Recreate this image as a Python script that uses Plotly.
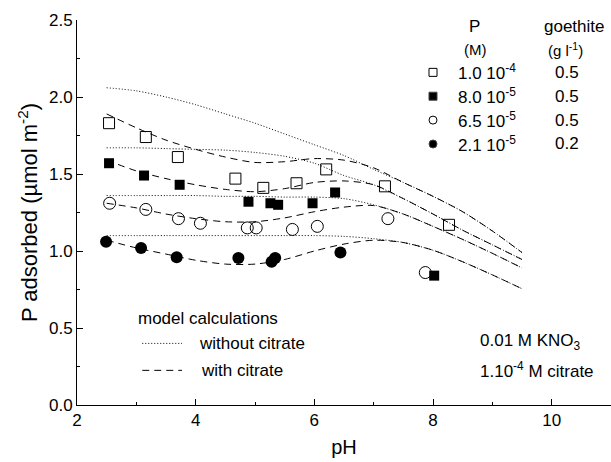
import plotly.graph_objects as go

# ---- model curves (pH grid) ----
ph_model = [2.5, 3.0, 3.5, 4.0, 4.5, 5.0, 5.5, 6.0, 6.5, 7.0, 7.5, 8.0, 8.5, 9.0, 9.5]

a_without = [2.06, 2.04, 2.00, 1.95, 1.89, 1.83, 1.76, 1.69, 1.62, 1.53, 1.445, 1.355, 1.255, 1.13, 0.99]
a_with    = [1.89, 1.80, 1.72, 1.66, 1.61, 1.575, 1.58, 1.60, 1.59, 1.54, 1.445, 1.355, 1.255, 1.13, 0.99]
b_without = [1.67, 1.67, 1.665, 1.66, 1.655, 1.64, 1.615, 1.57, 1.49, 1.43, 1.34, 1.24, 1.135, 1.04, 0.945]
b_with    = [1.59, 1.52, 1.47, 1.43, 1.40, 1.385, 1.405, 1.445, 1.455, 1.43, 1.34, 1.24, 1.135, 1.04, 0.945]
c_without = [1.36, 1.36, 1.36, 1.36, 1.355, 1.355, 1.35, 1.35, 1.34, 1.30, 1.24, 1.16, 1.075, 0.985, 0.89]
c_with    = [1.31, 1.28, 1.24, 1.21, 1.19, 1.19, 1.215, 1.255, 1.285, 1.295, 1.24, 1.16, 1.075, 0.985, 0.89]
d_without = [1.10, 1.10, 1.10, 1.10, 1.10, 1.10, 1.10, 1.10, 1.095, 1.08, 1.055, 1.005, 0.93, 0.845, 0.755]
d_with    = [1.07, 1.02, 0.98, 0.94, 0.915, 0.915, 0.945, 1.00, 1.045, 1.07, 1.055, 1.005, 0.93, 0.845, 0.755]

# ---- measured data ----
sq_open_x = [2.54, 3.16, 3.70, 4.67, 5.14, 5.70, 6.20, 7.19, 8.27]
sq_open_y = [1.83, 1.74, 1.61, 1.47, 1.41, 1.44, 1.53, 1.42, 1.17]
sq_fill_x = [2.54, 3.13, 3.73, 4.89, 5.26, 5.39, 5.97, 6.35, 8.02]
sq_fill_y = [1.57, 1.49, 1.43, 1.32, 1.31, 1.30, 1.31, 1.38, 0.84]
ci_open_x = [2.55, 3.16, 3.71, 4.08, 4.87, 5.02, 5.63, 6.05, 7.24, 7.87]
ci_open_y = [1.31, 1.27, 1.21, 1.18, 1.15, 1.15, 1.14, 1.16, 1.21, 0.86]
ci_fill_x = [2.49, 3.08, 3.68, 4.72, 5.28, 5.34, 6.44]
ci_fill_y = [1.06, 1.02, 0.96, 0.955, 0.93, 0.955, 0.99]

# ---- legend text ----
legend_conc = ["1.0 10<sup>-4</sup>", "8.0 10<sup>-5</sup>", "6.5 10<sup>-5</sup>", "2.1 10<sup>-5</sup>"]
legend_goethite = ["0.5", "0.5", "0.5", "0.2"]
legend_symbols = ["square-open", "square", "circle-open", "circle"]
legend_row_y = [2.16, 2.005, 1.85, 1.695]

x_ticks = [2, 4, 6, 8, 10]
y_ticks = [0.0, 0.5, 1.0, 1.5, 2.0, 2.5]

FONT = "Liberation Sans, Arial, Helvetica, sans-serif"
DOT = "1px,2px"
DASH = "7px,5px"

fig = go.Figure()

for ys in [a_without, b_without, c_without, d_without]:
    fig.add_trace(go.Scatter(x=ph_model, y=ys, mode="lines",
                             line=dict(color="black", width=1, dash=DOT, shape="spline", smoothing=0.8),
                             showlegend=False, hoverinfo="skip"))
for ys in [a_with, b_with, c_with, d_with]:
    fig.add_trace(go.Scatter(x=ph_model, y=ys, mode="lines",
                             line=dict(color="black", width=1, dash=DASH, shape="spline", smoothing=0.8),
                             showlegend=False, hoverinfo="skip"))

fig.add_trace(go.Scatter(x=sq_open_x, y=sq_open_y, mode="markers",
                         marker=dict(symbol="square-open", size=11, color="black", line=dict(width=1)),
                         showlegend=False))
fig.add_trace(go.Scatter(x=sq_fill_x, y=sq_fill_y, mode="markers",
                         marker=dict(symbol="square", size=10, color="black"),
                         showlegend=False))
fig.add_trace(go.Scatter(x=ci_open_x, y=ci_open_y, mode="markers",
                         marker=dict(symbol="circle-open", size=12, color="black", line=dict(width=1)),
                         showlegend=False))
fig.add_trace(go.Scatter(x=ci_fill_x, y=ci_fill_y, mode="markers",
                         marker=dict(symbol="circle", size=12, color="black"),
                         showlegend=False))

# legend key symbols
for sym, yy in zip(legend_symbols, legend_row_y):
    fig.add_trace(go.Scatter(x=[8.0], y=[yy], mode="markers", cliponaxis=False,
                             marker=dict(symbol=sym, size=8, color="black", line=dict(width=1)),
                             showlegend=False, hoverinfo="skip"))

ann = []
def text(x, y, s, xanchor="left", size=17):
    ann.append(dict(x=x, y=y, xref="x", yref="y", text=s, showarrow=False,
                    xanchor=xanchor, yanchor="middle", font=dict(family=FONT, size=size, color="black")))

text(8.70, 2.46, "P", "center")
text(10.38, 2.46, "goethite", "center")
text(8.72, 2.31, "(M)", "center", 15)
text(10.24, 2.31, "(g l<sup>-1</sup>)", "center", 15)
for conc, g, yy in zip(legend_conc, legend_goethite, legend_row_y):
    text(8.38, yy, conc)
    text(10.26, yy, g, "center")

text(3.0, 0.56, "model calculations")
text(4.03, 0.40, "without citrate")
text(4.05, 0.225, "with citrate")
text(8.76, 0.41, "0.01 M KNO<sub>3</sub>")
text(8.76, 0.225, "1.10<sup>-4</sup> M citrate")

shapes = [
    dict(type="line", xref="x", yref="y", x0=3.1, x1=3.77, y0=0.40, y1=0.40,
         line=dict(color="black", width=1, dash=DOT)),
    dict(type="line", xref="x", yref="y", x0=3.1, x1=3.77, y0=0.225, y1=0.225,
         line=dict(color="black", width=1, dash=DASH)),
]

fig.update_layout(
    width=611, height=462,
    margin=dict(l=77, r=0, t=20, b=57),
    paper_bgcolor="white", plot_bgcolor="white",
    font=dict(family=FONT, size=17, color="black"),
    annotations=ann, shapes=shapes,
    xaxis=dict(range=[2, 11], tickvals=x_ticks, ticks="inside", ticklen=6, tickwidth=1,
               tickcolor="black", showline=True, linecolor="black", linewidth=1,
               showgrid=False, zeroline=False,
               minor=dict(dtick=1, tick0=2, ticks="inside", ticklen=3, tickcolor="black", showgrid=False),
               title=dict(text="pH", font=dict(size=20), standoff=10),
               tickfont=dict(size=17)),
    yaxis=dict(range=[0, 2.5], tickvals=y_ticks, tickformat=".1f", ticks="inside", ticklen=6,
               tickwidth=1, tickcolor="black", showline=True, linecolor="black", linewidth=1,
               showgrid=False, zeroline=False,
               minor=dict(dtick=0.25, tick0=0, ticks="inside", ticklen=3, tickcolor="black", showgrid=False),
               title=dict(text="P adsorbed (µmol m<sup>-2</sup>)", font=dict(size=22), standoff=5),
               tickfont=dict(size=17)),
)

fig.write_html("out.html", config={"displayModeBar": False},
               post_script="document.body.style.margin='0';")
